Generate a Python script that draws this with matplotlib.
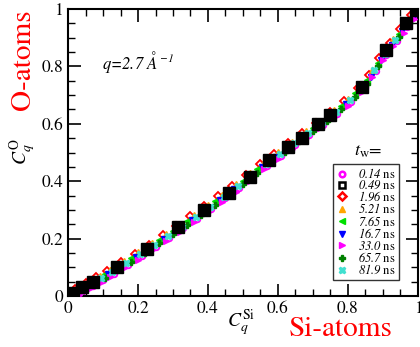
import matplotlib
matplotlib.use('Agg')
import matplotlib.pyplot as plt
from matplotlib.lines import Line2D
from matplotlib.ticker import MultipleLocator

plt.rcParams['font.family'] = ['STIXGeneral', 'DejaVu Serif']
plt.rcParams['mathtext.fontset'] = 'custom'
plt.rcParams['mathtext.rm'] = 'STIXGeneral'
plt.rcParams['mathtext.it'] = 'STIXGeneral:italic'
# \mathsf used as italic for digits (mathtext keeps digits upright in \mathit)
plt.rcParams['mathtext.sf'] = 'STIXGeneral:italic'

# waiting times (legend labels)
tw_labels = ['0.14', '0.49', '1.96', '5.21', '7.65', '16.7', '33.0', '65.7', '81.9']

# C_q^Si (x) and C_q^O (y) for each waiting time
x_014 = [0.01, 0.04, 0.07, 0.10, 0.13, 0.17, 0.21, 0.25, 0.29, 0.33, 0.37, 0.41, 0.45, 0.49,
         0.53, 0.57, 0.61, 0.65, 0.69, 0.73, 0.77, 0.81, 0.85, 0.88, 0.91, 0.94, 0.97, 0.99]
y_014 = [0.0, 0.013, 0.034, 0.055, 0.078, 0.108, 0.138, 0.170, 0.202, 0.236, 0.270, 0.304, 0.340, 0.376,
         0.415, 0.453, 0.489, 0.525, 0.561, 0.597, 0.635, 0.677, 0.725, 0.785, 0.841, 0.889, 0.937, 0.975]

x_049 = [0.005, 0.015, 0.04, 0.07, 0.14, 0.225, 0.315, 0.39, 0.46, 0.52, 0.575, 0.63, 0.67, 0.715,
         0.75, 0.84, 0.91, 0.965, 0.995]
y_049 = [0.003, 0.01, 0.03, 0.05, 0.10, 0.165, 0.24, 0.30, 0.36, 0.415, 0.474, 0.518, 0.552, 0.598,
         0.632, 0.728, 0.857, 0.95, 0.995]

x_196 = [0.02, 0.05, 0.08, 0.11, 0.15, 0.19, 0.23, 0.27, 0.31, 0.35, 0.39, 0.43, 0.47, 0.51,
         0.55, 0.59, 0.63, 0.67, 0.71, 0.75, 0.79, 0.83, 0.86, 0.89, 0.92, 0.95, 0.98]
y_196 = [0.024, 0.045, 0.066, 0.088, 0.118, 0.147, 0.179, 0.211, 0.244, 0.278, 0.312, 0.347, 0.383, 0.42,
         0.46, 0.496, 0.532, 0.568, 0.604, 0.64, 0.678, 0.726, 0.77, 0.83, 0.882, 0.93, 0.978]

x_521 = [0.03, 0.06, 0.09, 0.12, 0.16, 0.20, 0.24, 0.28, 0.32, 0.36, 0.40, 0.44, 0.48, 0.52,
         0.56, 0.60, 0.64, 0.68, 0.72, 0.76, 0.80, 0.84, 0.87, 0.90, 0.93, 0.96, 0.99]
y_521 = [0.028, 0.049, 0.070, 0.092, 0.122, 0.152, 0.184, 0.216, 0.249, 0.283, 0.317, 0.353, 0.389, 0.427,
         0.466, 0.502, 0.538, 0.574, 0.610, 0.647, 0.687, 0.735, 0.787, 0.847, 0.895, 0.943, 0.991]

x_765 = [0.015, 0.045, 0.075, 0.105, 0.14, 0.18, 0.22, 0.26, 0.30, 0.34, 0.38, 0.42, 0.46, 0.50,
         0.54, 0.58, 0.62, 0.66, 0.70, 0.74, 0.78, 0.82, 0.855, 0.885, 0.915, 0.945, 0.975]
y_765 = [0.012, 0.034, 0.055, 0.076, 0.102, 0.132, 0.163, 0.195, 0.227, 0.261, 0.295, 0.330, 0.366, 0.402,
         0.442, 0.479, 0.515, 0.551, 0.587, 0.623, 0.662, 0.706, 0.752, 0.812, 0.866, 0.914, 0.962]

x_167 = [0.025, 0.055, 0.085, 0.115, 0.155, 0.195, 0.235, 0.275, 0.315, 0.355, 0.395, 0.435, 0.475, 0.515,
         0.555, 0.595, 0.635, 0.675, 0.715, 0.755, 0.795, 0.835, 0.865, 0.895, 0.925, 0.955, 0.985]
y_167 = [0.012, 0.033, 0.054, 0.076, 0.106, 0.135, 0.167, 0.199, 0.232, 0.266, 0.300, 0.336, 0.372, 0.409,
         0.449, 0.485, 0.521, 0.557, 0.593, 0.629, 0.669, 0.716, 0.764, 0.824, 0.874, 0.922, 0.970]

x_330 = [0.03, 0.06, 0.09, 0.12, 0.16, 0.20, 0.24, 0.28, 0.32, 0.36, 0.40, 0.44, 0.48, 0.52,
         0.56, 0.60, 0.64, 0.68, 0.72, 0.76, 0.80, 0.84, 0.87, 0.90, 0.93, 0.96, 0.99]
y_330 = [0.003, 0.024, 0.045, 0.067, 0.097, 0.127, 0.159, 0.191, 0.224, 0.258, 0.292, 0.328, 0.364, 0.402,
         0.441, 0.477, 0.513, 0.549, 0.585, 0.622, 0.662, 0.710, 0.762, 0.822, 0.870, 0.918, 0.966]

x_657 = [0.015, 0.045, 0.075, 0.105, 0.14, 0.18, 0.22, 0.26, 0.30, 0.34, 0.38, 0.42, 0.46, 0.50,
         0.54, 0.58, 0.62, 0.66, 0.70, 0.74, 0.78, 0.82, 0.855, 0.885, 0.915, 0.945, 0.975]
y_657 = [0.001, 0.022, 0.043, 0.064, 0.090, 0.120, 0.151, 0.183, 0.215, 0.249, 0.283, 0.318, 0.354, 0.390,
         0.430, 0.467, 0.503, 0.539, 0.575, 0.611, 0.650, 0.694, 0.740, 0.800, 0.854, 0.902, 0.950]

x_819 = [0.035, 0.065, 0.095, 0.125, 0.165, 0.205, 0.245, 0.285, 0.325, 0.365, 0.405, 0.445, 0.485,
         0.525, 0.565, 0.605, 0.645, 0.685, 0.725, 0.765, 0.805, 0.845, 0.875, 0.905, 0.935, 0.965]
y_819 = [0.021, 0.042, 0.063, 0.085, 0.115, 0.145, 0.177, 0.209, 0.242, 0.277, 0.311, 0.346, 0.383,
         0.421, 0.460, 0.496, 0.532, 0.568, 0.604, 0.641, 0.682, 0.730, 0.786, 0.844, 0.892, 0.940]

series = [
    (x_014, y_014, 'o', '#ff00ff', False),
    (x_049, y_049, 's', 'black', True),
    (x_196, y_196, 'D', '#ff0000', False),
    (x_521, y_521, '^', '#ffa500', True),
    (x_765, y_765, '<', '#00e000', True),
    (x_167, y_167, 'v', '#0000ff', True),
    (x_330, y_330, '>', '#ff00ff', True),
    (x_657, y_657, 'P', '#008000', True),
    (x_819, y_819, 'X', '#40e0d0', True),
]

fig = plt.figure(figsize=(4.2, 3.47), dpi=100)
ax = fig.add_axes([0.162, 0.147, 0.833, 0.827])

for i, (xs, ys, m, c, filled) in enumerate(series):
    if m == 's':
        ax.plot(xs, ys, ls='none', marker='s', ms=8, color='black', zorder=5)
    elif filled:
        ax.plot(xs, ys, ls='none', marker=m, ms=4.5, color=c, mec=c, zorder=2 + i * 0.1)
    else:
        ax.plot(xs, ys, ls='none', marker=m, ms=4, mfc='none', mec=c, mew=1.3, zorder=2 + i * 0.1)

ax.set_xlim(0, 1)
ax.set_ylim(0, 1)
ax.xaxis.set_minor_locator(MultipleLocator(0.05))
ax.yaxis.set_minor_locator(MultipleLocator(0.05))
ax.tick_params(which='both', direction='in', top=True, right=True, labelsize=12.5)
ax.tick_params(which='major', length=9, width=1.2)
ax.tick_params(which='minor', length=5, width=1)
ax.set_xticks([0, 0.2, 0.4, 0.6, 0.8, 1.0])
ax.set_xticklabels(['0', '0.2', '0.4', '0.6', '0.8', '1'])
ax.set_yticks([0, 0.2, 0.4, 0.6, 0.8, 1.0])
ax.set_yticklabels(['0', '0.2', '0.4', '0.6', '0.8', '1'])
for sp in ax.spines.values():
    sp.set_linewidth(1.5)

fig.text(0.575, 0.07, r'$C_q^{\rm Si}$', fontsize=14, ha='center', va='center')
fig.text(0.812, 0.052, 'Si-atoms', fontsize=21, color='red', ha='center', va='center')
fig.text(0.055, 0.562, r'$C_q^{\rm O}$', fontsize=14, ha='center', va='center', rotation=90)
fig.text(0.055, 0.828, 'O-atoms', fontsize=21, color='red', ha='center', va='center', rotation=90)

ax.text(0.097, 0.815, r'$q$=2.7 $\AA^{\mathsf{-1}}$', fontsize=12, style='italic',
        va='center', transform=ax.transAxes)
ax.text(0.857, 0.502, r'$t_{\rm w}$=', fontsize=13, ha='center', va='center', transform=ax.transAxes)

handles = []
for xs, ys, m, c, filled in series:
    if m == 's' or not filled:
        h = Line2D([], [], ls='none', marker=m, ms=4, mfc='none', mec=c, mew=1.8)
    else:
        h = Line2D([], [], ls='none', marker=m, ms=5, color=c)
    handles.append(h)
labels = [r'$\mathsf{%s}$ ns' % t for t in tw_labels]
leg = ax.legend(handles, labels, loc='upper right', bbox_to_anchor=(0.946, 0.46),
                borderaxespad=0, fontsize=9, frameon=True, fancybox=False,
                handlelength=1.0, handletextpad=0.8, labelspacing=-0.12,
                borderpad=0.25, handleheight=0.7)
leg.get_frame().set_edgecolor('black')
leg.get_frame().set_linewidth(1.0)
leg.set_zorder(10)

fig.savefig('out.png', dpi=100)
